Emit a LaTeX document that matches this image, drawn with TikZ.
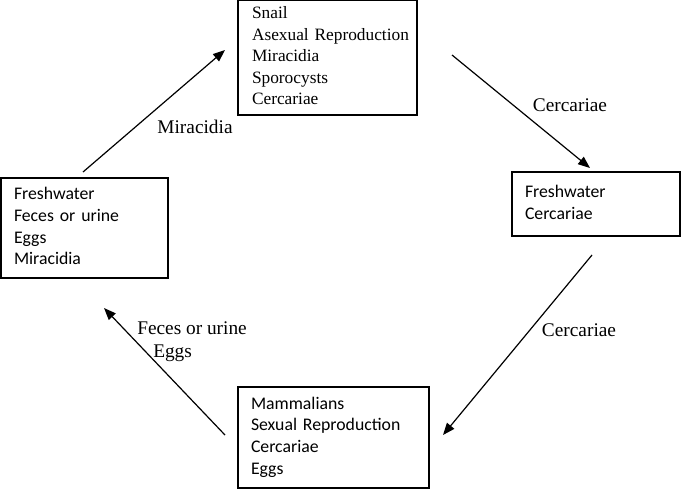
\documentclass[tikz,border=0pt]{standalone}
\usepackage{fontspec}
\setmainfont{Liberation Serif}
\newfontfamily\carl{Carlito}
\usetikzlibrary{arrows.meta}
\newcommand{\boxlines}[1]{\begin{tabular}{@{}l@{}}#1\end{tabular}}
\begin{document}
\begin{tikzpicture}[x=0.75pt,y=-0.75pt,
  boxnode/.style={draw, line width=0.9pt, inner ysep=0pt, align=left},
  serifbox/.style={boxnode, inner xsep=6.75pt, font=\fontsize{13pt}{16.1pt}\selectfont},
  sansbox/.style={boxnode, inner xsep=9.75pt, font=\carl\fontsize{13.3pt}{16.3pt}\selectfont},
  lbl/.style={font=\fontsize{14.5pt}{17.25pt}\selectfont, inner sep=0pt, align=left},
  flow/.style={line width=0.9pt, -{Triangle[length=9pt,width=7pt]}}]
\useasboundingbox (0,0) rectangle (684,490);

\node[serifbox, text width=120.75pt, minimum height=86.25pt] (snail) at (327.5,57.5)
  {\hspace*{3.75pt}\raisebox{-1.5pt}{\boxlines{Snail\\Asexual Reproduction\\Miracidia\\Sporocysts\\Cercariae}}};
\node[sansbox, text width=105.75pt, minimum height=75pt] (fresh1) at (84.5,228)
  {\boxlines{Freshwater\\Feces or urine\\Eggs\\Miracidia}};
\node[sansbox, text width=106.5pt, minimum height=48pt] (fresh2) at (596,204)
  {\boxlines{Freshwater\\Cercariae}};
\node[sansbox, text width=123.75pt, minimum height=75.75pt] (mammal) at (333.5,437.5)
  {\boxlines{Mammalians\\Sexual Reproduction\\Cercariae\\Eggs}};

\coordinate (a1s) at (83,172);
\coordinate (a1e) at (225,50);
\coordinate (a2s) at (452,55);
\coordinate (a2e) at (590,168);
\coordinate (a3s) at (592,255);
\coordinate (a3e) at (443,435);
\coordinate (a4s) at (225,435);
\coordinate (a4e) at (104,308);

\draw[flow] (a1s) -- (a1e);
\draw[flow] (a2s) -- (a2e);
\draw[flow] (a3s) -- (a3e);
\draw[flow] (a4s) -- (a4e);

\node[lbl] (l1) at (195,127) {Miracidia};
\node[lbl] (l2) at (570,105) {Cercariae};
\node[lbl] (l3) at (579,330) {Cercariae};
\node[lbl, anchor=west] (l4) at (137,341.5) {Feces or urine\\\hspace*{12pt}Eggs};
\end{tikzpicture}
\end{document}
